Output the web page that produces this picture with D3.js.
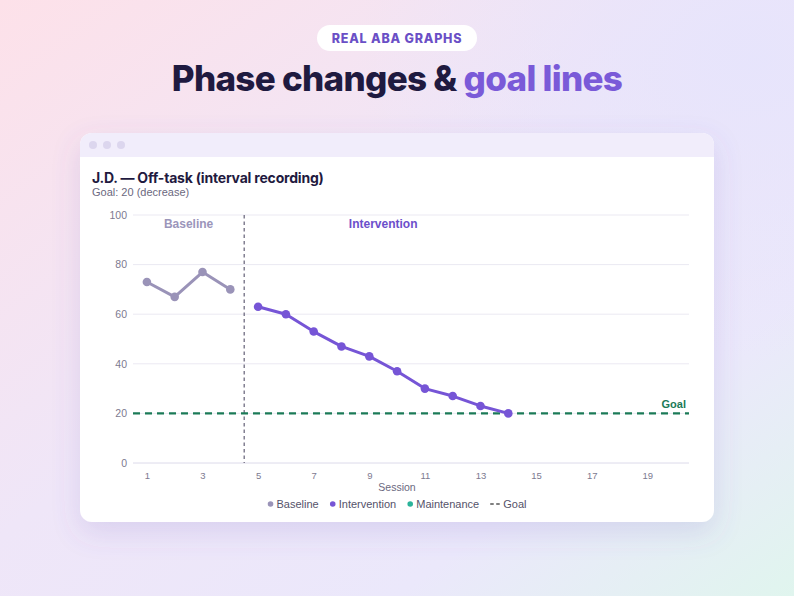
<!DOCTYPE html>
<html><head><meta charset="utf-8">
<script src="https://cdn.jsdelivr.net/npm/d3@7"></script>
<style>
html,body{margin:0;padding:0;width:794px;height:596px;overflow:hidden;}
</style></head>
<body>
<svg id="c" width="794" height="596"></svg>
<script>
const baselineSessions = [1,2,3,4];
const baselineValues = [73,67,77,70];
const interventionSessions = [5,6,7,8,9,10,11,12,13,14];
const interventionValues = [63,60,53,47,43,37,30,27,23,20];
const goalValue = 20;
const phaseChangeAt = 4.5;
const xTicks = [1,3,5,7,9,11,13,15,17,19];
const yTicks = [0,20,40,60,80,100];
const legendItems = ["Baseline","Intervention","Maintenance","Goal"];

const svg = d3.select("#c");
const defs = svg.append("defs");
const bg = defs.append("linearGradient").attr("id","bg").attr("x1","0").attr("y1","0").attr("x2","1").attr("y2","1");
bg.append("stop").attr("offset","0").attr("stop-color","#fde1e9");
bg.append("stop").attr("offset","0.45").attr("stop-color","#efe6f8");
bg.append("stop").attr("offset","0.75").attr("stop-color","#ebe8fb");
bg.append("stop").attr("offset","1").attr("stop-color","#e0f5ee");
svg.append("rect").attr("width",794).attr("height",596).attr("fill","url(#bg)");
const bg2 = defs.append("radialGradient").attr("id","bg2").attr("cx","0.95").attr("cy","0.1").attr("r","0.5");
bg2.append("stop").attr("offset","0").attr("stop-color","#e6e4fc").attr("stop-opacity",0.9);
bg2.append("stop").attr("offset","1").attr("stop-color","#e6e4fc").attr("stop-opacity",0);
svg.append("rect").attr("width",794).attr("height",596).attr("fill","url(#bg2)");

const f = defs.append("filter").attr("id","sh").attr("x","-20%").attr("y","-20%").attr("width","140%").attr("height","150%");
f.append("feDropShadow").attr("dx",0).attr("dy",10).attr("stdDeviation",14).attr("flood-color","#6a55b8").attr("flood-opacity",0.16);

// pill
svg.append("rect").attr("x",317).attr("y",25).attr("width",160).attr("height",26).attr("rx",13).attr("fill","#fff");
svg.append("text").attr("x",397).attr("y",42.5).attr("text-anchor","middle")
  .attr("font-family","Inter, 'DejaVu Sans', sans-serif").attr("font-weight",800).attr("font-size",12.5)
  .attr("letter-spacing",0.8).attr("fill","#6a4fc6").text("REAL ABA GRAPHS");

// headline
const h = svg.append("text").attr("x",397).attr("y",91).attr("text-anchor","middle")
  .attr("font-family","Inter, 'DejaVu Sans', sans-serif").attr("font-weight",800).attr("font-size",35).attr("letter-spacing",-0.7);
h.append("tspan").attr("fill","#1f1a40").text("Phase changes & ");
h.append("tspan").attr("fill","#7a5ad8").text("goal lines");

// card
svg.append("rect").attr("x",80).attr("y",133).attr("width",634).attr("height",389).attr("rx",12).attr("fill","#fff").attr("filter","url(#sh)");
const clip = defs.append("clipPath").attr("id","cardclip");
clip.append("rect").attr("x",80).attr("y",133).attr("width",634).attr("height",389).attr("rx",12);
svg.append("rect").attr("x",80).attr("y",133).attr("width",634).attr("height",24).attr("fill","#f1edfb").attr("clip-path","url(#cardclip)");
[93,107,121].forEach(cx=>svg.append("circle").attr("cx",cx).attr("cy",145).attr("r",4).attr("fill","#dcd6ee"));

svg.append("text").attr("x",92).attr("y",183).attr("font-family","Inter, 'DejaVu Sans', sans-serif").attr("font-weight",700)
  .attr("font-size",14).attr("letter-spacing",-0.2).attr("fill","#1f1a40").text("J.D. — Off-task (interval recording)");
svg.append("text").attr("x",92).attr("y",195.5).attr("font-family","'Liberation Sans', Arial, sans-serif")
  .attr("font-size",11).attr("fill","#6b6880").text("Goal: 20 (decrease)");

// chart
const x = d3.scaleLinear().domain([0.5,20.5]).range([133,689]);
const y = d3.scaleLinear().domain([0,100]).range([463,215]);
const font = "'Liberation Sans', Arial, sans-serif";

const g = svg.append("g");
// gridlines
g.append("g").selectAll("line").data(yTicks).join("line")
  .attr("x1",x(0.5)).attr("x2",x(20.5)).attr("y1",d=>y(d)).attr("y2",d=>y(d))
  .attr("stroke",d=>d===0?"#dcdaea":"#ebe9f2").attr("stroke-width",1);

// y axis
const ya = g.append("g").attr("transform",`translate(${x(0.5)},0)`)
  .call(d3.axisLeft(y).tickValues(yTicks).tickSize(0).tickPadding(6));
ya.select(".domain").remove();
ya.selectAll("text").attr("font-family",font).attr("font-size",10.5).attr("fill","#7d7a90");

// x axis
const xa = g.append("g").attr("transform",`translate(0,${y(0)})`)
  .call(d3.axisBottom(x).tickValues(xTicks).tickSize(0).tickPadding(9));
xa.select(".domain").remove();
xa.selectAll("text").attr("font-family",font).attr("font-size",9.5).attr("fill","#7d7a90");
g.append("text").attr("x",397).attr("y",491).attr("text-anchor","middle").attr("font-family",font)
  .attr("font-size",10.5).attr("fill","#6b6880").text("Session");

// phase line
g.append("line").attr("x1",x(phaseChangeAt)).attr("x2",x(phaseChangeAt)).attr("y1",y(100)).attr("y2",y(0))
  .attr("stroke","#6f6c80").attr("stroke-width",1.3).attr("stroke-dasharray","3.5,3");

// phase labels
g.append("text").attr("x",x(2.5)).attr("y",228).attr("text-anchor","middle").attr("font-family",font)
  .attr("font-weight",700).attr("font-size",12).attr("fill","#9b95ba").text("Baseline");
g.append("text").attr("x",x(9.5)).attr("y",228).attr("text-anchor","middle").attr("font-family",font)
  .attr("font-weight",700).attr("font-size",12).attr("fill","#6c4fcb").text("Intervention");

// goal
g.append("line").attr("x1",x(0.5)).attr("x2",x(20.5)).attr("y1",y(goalValue)).attr("y2",y(goalValue))
  .attr("stroke","#1b7a57").attr("stroke-width",2.2).attr("stroke-dasharray","7,5");
g.append("text").attr("x",x(20.5)-3).attr("y",y(goalValue)-5).attr("text-anchor","end").attr("font-family",font)
  .attr("font-weight",700).attr("font-size",11).attr("fill","#1b7a57").text("Goal");

const line = d3.line().x(d=>x(d[0])).y(d=>y(d[1]));
function series(xs, vs, color){
  const pts = xs.map((s,i)=>[s,vs[i]]);
  g.append("path").datum(pts).attr("d",line).attr("fill","none").attr("stroke",color).attr("stroke-width",3).attr("stroke-linejoin","round");
  g.append("g").selectAll("circle").data(pts).join("circle").attr("cx",d=>x(d[0])).attr("cy",d=>y(d[1])).attr("r",4.3).attr("fill",color);
}
series(baselineSessions, baselineValues, "#9a93b8");
series(interventionSessions, interventionValues, "#7655d6");

// legend
const legColors = {"Baseline":"#9a93b8","Intervention":"#7655d6","Maintenance":"#2bb39a","Goal":"#1b7a57"};
const lg = svg.append("g");
let lx = 0;
legendItems.forEach(name=>{
  const it = lg.append("g");
  if(name==="Goal"){
    it.append("line").attr("x1",0).attr("x2",3.5).attr("y1",0).attr("y2",0).attr("stroke","#555").attr("stroke-width",1.5);
    it.append("line").attr("x1",6).attr("x2",9.5).attr("y1",0).attr("y2",0).attr("stroke","#555").attr("stroke-width",1.5);
  } else {
    it.append("circle").attr("cx",3).attr("cy",0).attr("r",2.8).attr("fill",legColors[name]);
  }
  const t = it.append("text").attr("x",name==="Goal"?13:9).attr("y",4).attr("font-family",font).attr("font-size",11).attr("fill","#55526a").text(name);
  const w = (name==="Goal"?13:9) + t.node().getComputedTextLength();
  it.attr("transform",`translate(${lx},0)`);
  lx += w + 11;
});
lx -= 11;
lg.attr("transform",`translate(${397 - lx/2},504)`);
</script>
</body></html>
